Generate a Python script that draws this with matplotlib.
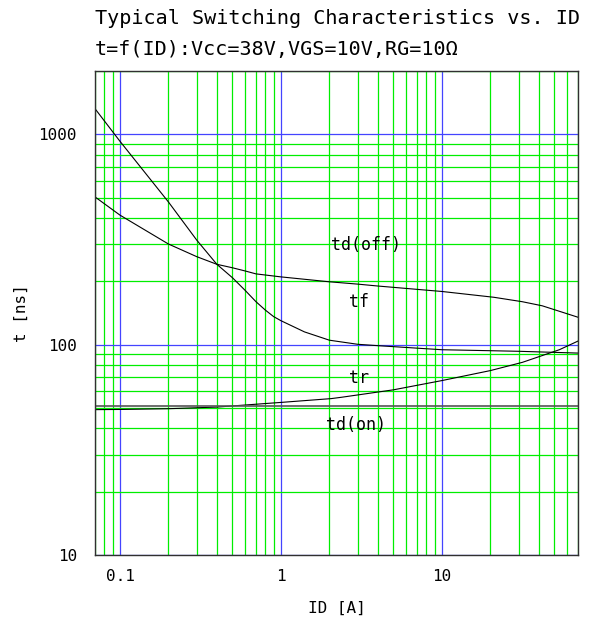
import numpy as np
import matplotlib
matplotlib.use('Agg')
import matplotlib.pyplot as plt
from matplotlib import ticker

# Switching times (ID in A, t in ns)
id_tf = [0.07, 0.1, 0.2, 0.3, 0.4, 0.5, 0.6, 0.7, 0.8, 0.9, 1, 1.4, 2, 3, 4, 10, 30, 70]
t_tf = [1324, 927, 477, 314, 241, 208, 181, 160, 146, 136, 130, 115, 105, 100.4, 98.9, 94.6, 93, 91.2]

id_tdoff = [0.07, 0.1, 0.2, 0.3, 0.4, 0.5, 0.6, 0.7, 1, 2, 3, 4, 10, 21, 31.6, 42, 70]
t_tdoff = [504, 413, 301, 262, 241, 232, 224, 217, 210, 199, 194, 190, 179, 168, 160, 153, 135]

id_tr = [0.07, 0.1, 0.2, 0.4, 1.02, 2.05, 2.37, 5, 10, 20, 31.6, 53.6, 70]
t_tr = [49.1, 49.2, 49.6, 50.5, 53.2, 55.4, 56.2, 61, 67.5, 75.3, 82.4, 94.6, 104]

id_tdon = [0.07, 70]
t_tdon = [51, 51]

curve_labels = ['td(off)', 'tf', 'tr', 'td(on)']
label_pos = [(2.05, 298), (2.66, 160), (2.66, 69.5), (1.9, 41.7)]

title_lines = ['Typical Switching Characteristics vs. ID',
               't=f(ID):Vcc=38V,VGS=10V,RG=10\u03a9']

plt.rcParams['font.family'] = ['DejaVu Sans Mono', 'DejaVu Sans']

fig = plt.figure(figsize=(5.92, 6.17), dpi=100)
ax = fig.add_axes([95/592, 1-555/617, 483/592, 484/617])

ax.set_xscale('log')
ax.set_yscale('log')
ax.set_xlim(0.07, 70)
ax.set_ylim(10, 2000)

ax.xaxis.set_major_locator(ticker.LogLocator(base=10, numticks=20))
ax.xaxis.set_minor_locator(ticker.LogLocator(base=10, subs=np.arange(2, 10), numticks=50))
ax.yaxis.set_major_locator(ticker.LogLocator(base=10, numticks=20))
ax.yaxis.set_minor_locator(ticker.LogLocator(base=10, subs=np.arange(2, 10), numticks=50))
fmt = ticker.FuncFormatter(lambda v, p: f'{v:g}')
ax.xaxis.set_major_formatter(fmt)
ax.yaxis.set_major_formatter(fmt)
ax.xaxis.set_minor_formatter(ticker.NullFormatter())
ax.yaxis.set_minor_formatter(ticker.NullFormatter())

ax.grid(which='minor', color='#00ee00', linewidth=0.9)
ax.grid(which='major', color='#4444ff', linewidth=0.9)
ax.set_axisbelow(True)
ax.tick_params(which='both', length=0, labelsize=11.5)
ax.tick_params(axis='x', pad=10)
ax.tick_params(axis='y', pad=13)

for spine in ax.spines.values():
    spine.set_color('#303030')
    spine.set_linewidth(1.0)

ax.plot(id_tf, t_tf, color='black', linewidth=0.8)
ax.plot(id_tdoff, t_tdoff, color='black', linewidth=0.8)
ax.plot(id_tr, t_tr, color='black', linewidth=0.8)
ax.plot(id_tdon, t_tdon, color='#555555', linewidth=1.2)

for lab, (lx, ly) in zip(curve_labels, label_pos):
    ax.text(lx, ly, lab, fontsize=12, ha='left', va='center')

ax.set_xlabel('ID [A]', fontsize=11.5, labelpad=12)
ax.set_ylabel('t [ns]', fontsize=11.5, labelpad=7)

fig.text(95/592, 1-19/617, title_lines[0], fontsize=14.5, ha='left', va='center')
fig.text(95/592, 1-49/617, title_lines[1], fontsize=14.5, ha='left', va='center')

plt.savefig('out.png', dpi=100)
plt.close()
